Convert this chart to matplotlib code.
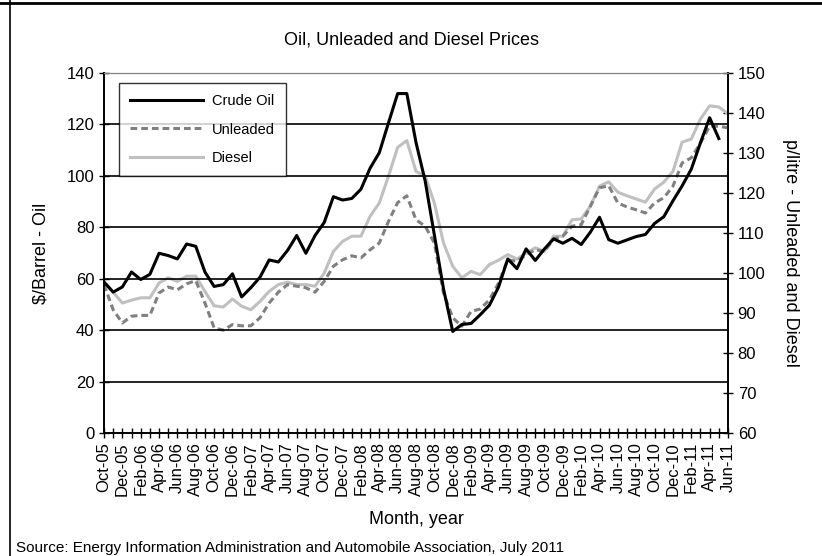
import matplotlib
matplotlib.use("Agg")
import matplotlib.pyplot as plt
from matplotlib.lines import Line2D

plt.rcParams['font.family'] = ['Liberation Sans', 'DejaVu Sans']

mon = ["Jan", "Feb", "Mar", "Apr", "May", "Jun", "Jul", "Aug", "Sep", "Oct", "Nov", "Dec"]
months = []
y, m = 2005, 9
for k in range(69):
    months.append(f"{mon[m]}-{y % 100:02d}")
    m += 1
    if m == 12:
        m = 0
        y += 1

crude = [58.7, 54.8, 56.8, 62.6, 59.7, 61.7, 69.9, 69.0, 67.7, 73.5, 72.6, 62.6,
         57.0, 57.7, 61.9, 52.9, 56.5, 60.6, 67.3, 66.5, 71.0, 76.8, 69.9, 76.8,
         81.9, 91.9, 90.6, 91.2, 94.8, 103.0, 109.0, 120.6, 132.0, 132.0, 113.0, 98.0,
         77.0, 56.0, 39.5, 42.2, 42.6, 46.0, 49.7, 56.8, 67.7, 63.9, 71.6, 67.1,
         71.6, 75.5, 73.8, 75.7, 73.3, 78.1, 83.9, 75.2, 73.8, 75.1, 76.4, 77.2,
         81.5, 84.1, 90.3, 96.1, 102.6, 112.9, 122.6, 114.5]

unleaded = [97.1, 90.8, 87.5, 89.2, 89.4, 89.4, 95.0, 96.5, 95.8, 97.3, 98.1, 92.5,
            86.3, 85.7, 87.1, 86.8, 86.8, 88.8, 92.5, 95.2, 97.1, 96.7, 96.3, 95.2,
            97.9, 101.7, 103.3, 104.3, 103.8, 105.8, 107.5, 112.9, 117.6, 119.3, 113.3, 111.7,
            107.5, 95.0, 88.8, 86.7, 90.4, 91.0, 93.3, 97.5, 103.3, 102.9, 104.6, 105.8,
            105.4, 108.5, 109.2, 111.7, 112.1, 116.7, 121.3, 121.8, 117.5, 116.5, 115.8, 115.0,
            117.5, 118.8, 121.7, 127.5, 128.8, 132.5, 136.7, 136.7, 136.3]

diesel = [97.9, 95.2, 92.5, 93.2, 93.8, 93.8, 97.5, 98.8, 97.9, 99.2, 99.2, 95.4,
          91.8, 91.5, 93.5, 91.7, 90.8, 92.9, 95.4, 97.1, 97.7, 97.1, 97.1, 96.7,
          100.0, 105.4, 107.9, 109.2, 109.2, 114.2, 117.5, 124.2, 131.4, 133.1, 125.4, 124.2,
          117.5, 107.5, 101.7, 98.8, 100.4, 99.6, 102.1, 103.2, 104.6, 103.5, 105.0, 106.3,
          105.4, 109.2, 109.2, 113.3, 113.5, 116.7, 121.7, 122.8, 120.2, 119.3, 118.5, 117.7,
          121.0, 122.7, 125.4, 132.7, 133.5, 138.5, 141.8, 141.5, 139.8]

series_names = ["Crude Oil", "Unleaded", "Diesel"]

fig = plt.figure(figsize=(8.22, 5.56), dpi=100)
ax = fig.add_axes([104/822, 1-433/556, 624/822, 360/556])
ax2 = ax.twinx()

x = list(range(len(months)))
ax.set_xlim(0, len(months) - 1)
ax.set_ylim(0, 140)
ax2.set_ylim(60, 150)
ax.set_yticks(range(0, 141, 20))
ax2.set_yticks(range(60, 151, 10))

for v in range(20, 141, 20):
    ax.axhline(v, color='black' if v < 140 else '#808080', lw=1.2, zorder=1)

dash = (0, (2.2, 1.3))
l2, = ax2.plot(x, unleaded, color='#808080', lw=2.2, ls=dash, zorder=3)
l3, = ax2.plot(x, diesel, color='#c0c0c0', lw=2.2, zorder=2)
l1, = ax.plot(x[:len(crude)], crude, color='black', lw=2.2, zorder=4)
ax.set_zorder(ax2.get_zorder() + 1)
ax.patch.set_visible(False)

ax.set_xticks(x)
ax.set_xticklabels([lab if i % 2 == 0 else "" for i, lab in enumerate(months)],
                   rotation=90, fontsize=12)
ax.tick_params(axis='x', direction='inout', length=7, width=1, pad=3)
ax.tick_params(axis='y', direction='inout', length=7, width=1, labelsize=12)
ax2.tick_params(axis='y', direction='inout', length=7, width=1, labelsize=12)

for a in (ax, ax2):
    a.spines['top'].set_color('#808080')
    a.spines['left'].set_linewidth(1.2)
    a.spines['right'].set_linewidth(1.2)
    a.spines['bottom'].set_linewidth(1.2)

ax.set_ylabel("$/Barrel - Oil", fontsize=13, labelpad=12)
ax2.set_ylabel("p/litre - Unleaded and Diesel", fontsize=13, rotation=270, labelpad=24)
ax.set_xlabel("Month, year", fontsize=13, labelpad=11)
fig.text(0.5, 1-40/556, "Oil, Unleaded and Diesel Prices", ha='center', va='center', fontsize=13)

handles = [Line2D([], [], color='black', lw=2.2),
           Line2D([], [], color='#808080', lw=2.2, ls=dash),
           Line2D([], [], color='#c0c0c0', lw=2.2)]
leg = ax.legend(handles, series_names, loc='upper left', bbox_to_anchor=(0.024, 0.972),
                frameon=True, fancybox=False, edgecolor='black', fontsize=10.5,
                handlelength=5.0, handletextpad=0.6, borderpad=0.75, labelspacing=1.0,
                borderaxespad=0)
leg.get_frame().set_linewidth(1.0)
leg.set_zorder(10)

# outer frame fragments
fig.add_artist(Line2D([10/822, 10/822], [0, 1], transform=fig.transFigure, color='black', lw=1.2))
fig.add_artist(Line2D([0, 1], [1-3/556, 1-3/556], transform=fig.transFigure, color='black', lw=2))
fig.text(16/822, 1/556, "Source: Energy Information Administration and Automobile Association, July 2011",
         ha='left', va='bottom', fontsize=11)

fig.savefig("out.png", dpi=100)
